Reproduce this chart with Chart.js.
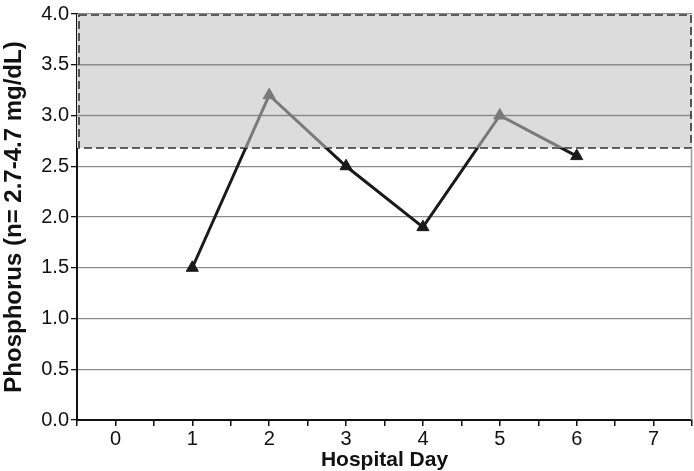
<!DOCTYPE html>
<html>
<head>
<meta charset="utf-8">
<script src="https://cdn.jsdelivr.net/npm/chart.js@4/dist/chart.umd.min.js"></script>
<style>
  html, body { margin: 0; padding: 0; background: #fff; }
  #wrap { width: 694px; height: 471px; }
</style>
</head>
<body>
<div id="wrap"><canvas id="phosChart"></canvas></div>
<script>
const days = [1, 2, 3, 4, 5, 6];
const phosphorus = [1.5, 3.2, 2.5, 1.9, 3.0, 2.6];
const yTicks = [0, 0.5, 1.0, 1.5, 2.0, 2.5, 3.0, 3.5, 4.0];
const xTickLabels = ['0', '1', '2', '3', '4', '5', '6', '7'];
const normalLow = 2.68;
const normalHigh = 4.0;

const GRAY = '#7a7a7a';
const DARK = '#1a1a1a';
const FONT = 'Liberation Sans, Arial, sans-serif';

// shaded normal range box + right border of the plot
const rangeBox = {
  id: 'rangeBox',
  beforeDatasetsDraw(chart) {
    const { ctx, chartArea, scales } = chart;
    const top = scales.y.getPixelForValue(normalHigh);
    const bot = scales.y.getPixelForValue(normalLow);
    ctx.save();
    ctx.fillStyle = '#dcdcdc';
    ctx.fillRect(chartArea.left, top, chartArea.right - chartArea.left, bot - top);
    ctx.strokeStyle = '#8a8a8a';
    ctx.lineWidth = 1.3;
    yTicks.forEach(v => {
      if (v > normalLow && v < normalHigh) {
        const p = scales.y.getPixelForValue(v);
        ctx.beginPath();
        ctx.moveTo(chartArea.left, p);
        ctx.lineTo(chartArea.right, p);
        ctx.stroke();
      }
    });
    ctx.strokeStyle = '#333';
    ctx.lineWidth = 1.6;
    ctx.setLineDash([8, 4]);
    ctx.strokeRect(chartArea.left + 2, top + 1, chartArea.right - chartArea.left - 3, bot - top - 1);
    ctx.setLineDash([]);
    ctx.strokeStyle = '#999';
    ctx.lineWidth = 1.5;
    ctx.beginPath();
    ctx.moveTo(chartArea.right - 0.5, bot);
    ctx.lineTo(chartArea.right - 0.5, chartArea.bottom);
    ctx.stroke();
    ctx.restore();
  }
};

function lineColor(context) {
  const chart = context.chart;
  const { ctx, chartArea, scales } = chart;
  if (!chartArea) return DARK;
  const f = (scales.y.getPixelForValue(normalLow) - chartArea.top) / (chartArea.bottom - chartArea.top);
  const g = ctx.createLinearGradient(0, chartArea.top, 0, chartArea.bottom);
  const s = Math.min(Math.max(f, 0), 1);
  g.addColorStop(0, GRAY);
  g.addColorStop(s, GRAY);
  g.addColorStop(s, DARK);
  g.addColorStop(1, DARK);
  return g;
}

const pointColors = phosphorus.map(v => v > normalLow ? GRAY : DARK);

new Chart(document.getElementById('phosChart'), {
  type: 'line',
  data: {
    datasets: [{
      data: days.map((d, i) => ({ x: d, y: phosphorus[i] })),
      borderColor: lineColor,
      borderWidth: 3,
      pointStyle: 'triangle',
      pointRadius: 7,
      pointBackgroundColor: pointColors,
      pointBorderColor: pointColors,
      pointBorderWidth: 1,
      tension: 0,
      fill: false
    }]
  },
  plugins: [rangeBox],
  options: {
    responsive: true,
    maintainAspectRatio: false,
    animation: false,
    layout: { autoPadding: false, padding: { top: 13, right: 2, left: 0, bottom: 0 } },
    plugins: { legend: { display: false }, tooltip: { enabled: false } },
    scales: {
      x: {
        type: 'linear',
        min: -0.5,
        max: 7.5,
        afterBuildTicks(axis) {
          const t = [];
          for (let v = -0.5; v <= 7.5; v += 0.5) t.push({ value: v });
          axis.ticks = t;
        },
        afterFit(axis) { axis.height = 51; axis.paddingLeft = 0; axis.paddingRight = 0; },
        ticks: {
          autoSkip: false,
          maxRotation: 0,
          color: '#111',
          padding: 1,
          font: { family: FONT, size: 20 },
          callback: v => Number.isInteger(v) ? xTickLabels[v] : ''
        },
        grid: { drawOnChartArea: false, drawTicks: true, tickLength: 6, color: '#111', lineWidth: 1.5 },
        border: { color: '#111', width: 2 },
        title: {
          display: true,
          text: 'Hospital Day',
          color: '#111',
          padding: { top: 0, bottom: -2 },
          font: { family: FONT, size: 21, weight: 'bold' }
        }
      },
      y: {
        min: 0,
        max: 4,
        afterBuildTicks(axis) { axis.ticks = yTicks.map(v => ({ value: v })); },
        afterFit(axis) { axis.width = 77; },
        ticks: {
          color: '#111',
          padding: 2,
          font: { family: FONT, size: 20 },
          callback: v => v.toFixed(1)
        },
        grid: { color: '#8a8a8a', lineWidth: 1.3, tickColor: '#111', tickLength: 6 },
        border: { color: '#111', width: 2 },
        title: {
          display: true,
          text: 'Phosphorus (n= 2.7-4.7 mg/dL)',
          color: '#111',
          padding: { top: 0, bottom: 0 },
          font: { family: FONT, size: 24, weight: 'bold' }
        }
      }
    }
  }
});
</script>
</body>
</html>
